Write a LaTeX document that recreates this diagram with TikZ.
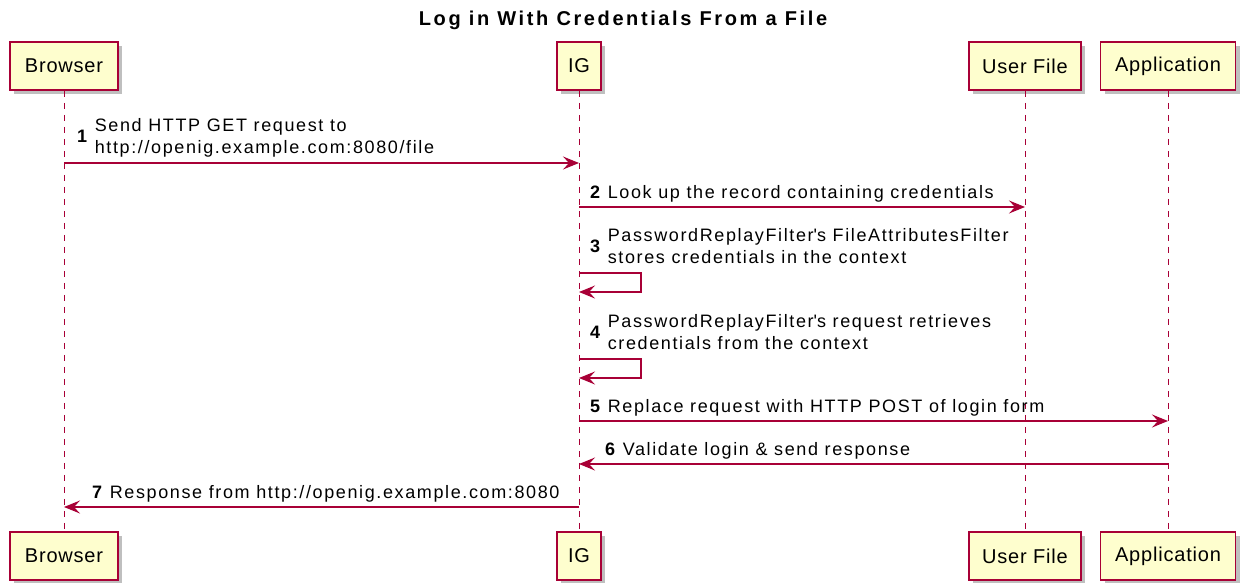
\documentclass[tikz,border=0pt]{standalone}
\usepackage{fontspec}
\setmainfont{Liberation Sans}
\usetikzlibrary{arrows.meta,shadows}
\definecolor{pu}{HTML}{A80036}
\definecolor{pfill}{HTML}{FEFECE}
\begin{document}
\begin{tikzpicture}[x=1pt,y=-1pt,
  part/.style={draw=pu, fill=pfill, line width=1.8pt, minimum height=48pt, inner sep=0pt,
    font=\fontsize{20}{20}\selectfont\addfontfeature{LetterSpace=4},
    drop shadow={shadow xshift=4pt, shadow yshift=-4pt, fill=black, opacity=0.25}},
  life/.style={draw=pu, dash pattern=on 6pt off 6pt, line width=1pt},
  msg/.style={draw=pu, line width=1.3pt, -{Stealth[length=16pt,width=13pt,inset=6pt]}},
  loopm/.style={draw=pu, line width=1.3pt, -{Stealth[length=16pt,width=13pt,inset=6pt]}},
  lbl/.style={anchor=south west, inner sep=0pt, align=left,
    font=\fontsize{18}{22}\selectfont\addfontfeature{LetterSpace=9}},
  ttl/.style={inner sep=0pt, font=\fontsize{20}{20}\selectfont\bfseries\addfontfeature{LetterSpace=13}}
]
\useasboundingbox (0,0) rectangle (1242,583);
\node[ttl] (title) at (623,20) {Log in With Credentials From a File};
% participants top
\node[part, minimum width=108pt] (bt) at (64,66) {Browser};
\node[part, minimum width=44pt] (it) at (579,66) {IG};
\node[part, minimum width=112pt] (ut) at (1025,66) {User File};
\node[part, minimum width=135pt] (at) at (1168,66) {Application};
% participants bottom
\node[part, minimum width=108pt] (bb) at (64,556) {Browser};
\node[part, minimum width=44pt] (ib) at (579,556) {IG};
\node[part, minimum width=112pt] (ub) at (1025,556) {User File};
\node[part, minimum width=135pt] (ab) at (1168,556) {Application};
% lifelines
\draw[life] (bt.south) -- (bb.north);
\draw[life] (it.south) -- (ib.north);
\draw[life] (ut.south) -- (ub.north);
\draw[life] (at.south) -- (ab.north);
% message coordinates
\coordinate (m1a) at (bt.south |- 0,163); \coordinate (m1b) at (it.south |- 0,163);
\coordinate (m2a) at (it.south |- 0,207); \coordinate (m2b) at (ut.south |- 0,207);
\coordinate (m3a) at (it.south |- 0,273); \coordinate (m3b) at (it.south |- 0,292);
\coordinate (m4a) at (it.south |- 0,359); \coordinate (m4b) at (it.south |- 0,378);
\coordinate (m5a) at (it.south |- 0,421); \coordinate (m5b) at (at.south |- 0,421);
\coordinate (m6a) at (at.south |- 0,464); \coordinate (m6b) at (it.south |- 0,464);
\coordinate (m7a) at (it.south |- 0,507); \coordinate (m7b) at (bt.south |- 0,507);
% arrows
\draw[msg] (m1a) -- (m1b);
\draw[msg] (m2a) -- (m2b);
\draw[loopm] (m3a) -| ++(62,19) -- (m3b);
\draw[loopm] (m4a) -| ++(62,19) -- (m4b);
\draw[msg] (m5a) -- (m5b);
\draw[msg] (m6a) -- (m6b);
\draw[msg] (m7a) -- (m7b);
% labels
\node[lbl] (l1) at (77,160) {\textbf{1}\hspace{6pt}\begin{tabular}[c]{@{}l@{}}Send HTTP GET request to\\http://openig.example.com:8080/file\end{tabular}};
\node[lbl] (l2) at (590,202) {\textbf{2}\hspace{6pt}Look up the record containing credentials};
\node[lbl] (l3) at (590,270) {\textbf{3}\hspace{6pt}\begin{tabular}[c]{@{}l@{}}PasswordReplayFilter\textquotesingle s FileAttributesFilter\\stores credentials in the context\end{tabular}};
\node[lbl] (l4) at (590,356) {\textbf{4}\hspace{6pt}\begin{tabular}[c]{@{}l@{}}PasswordReplayFilter\textquotesingle s request retrieves\\credentials from the context\end{tabular}};
\node[lbl] (l5) at (590,416) {\textbf{5}\hspace{6pt}Replace request with HTTP POST of login form};
\node[lbl] (l6) at (605,459) {\textbf{6}\hspace{6pt}Validate login \& send response};
\node[lbl] (l7) at (92,502) {\textbf{7}\hspace{6pt}Response from http://openig.example.com:8080};
\end{tikzpicture}
\end{document}
